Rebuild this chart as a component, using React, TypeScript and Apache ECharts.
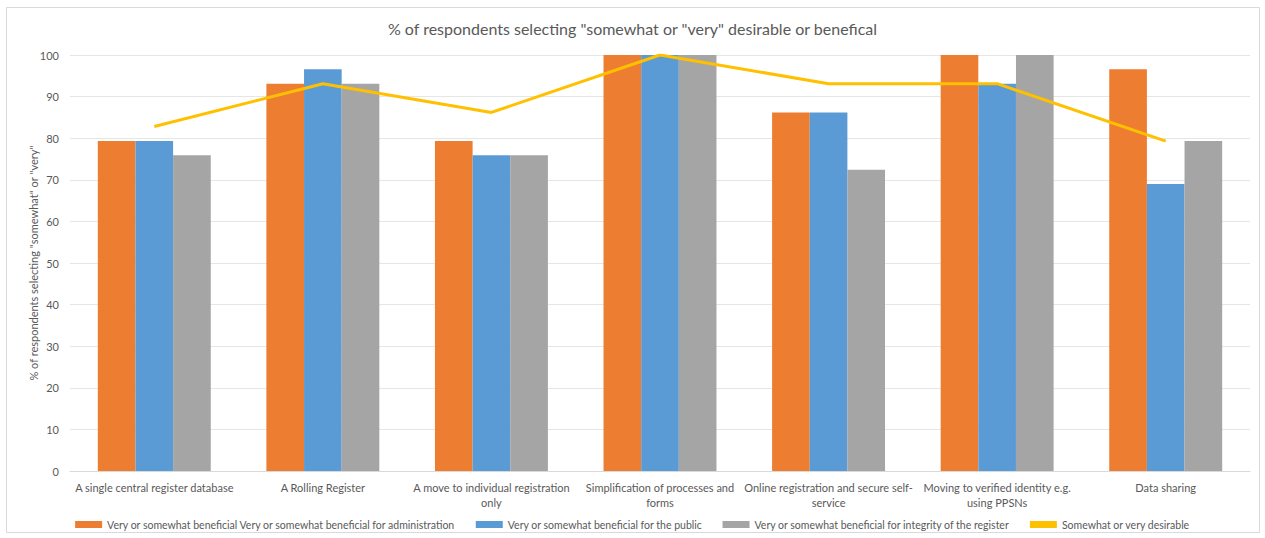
import React, { useEffect, useRef } from "react";
import * as echarts from "echarts";

const categories = [
  "A single central register database",
  "A Rolling Register",
  "A move to individual registration\nonly",
  "Simplification of processes and\nforms",
  "Online registration and secure self-\nservice",
  "Moving to verified identity e.g.\nusing PPSNs",
  "Data sharing",
];
const adminValues = [79.3, 93.1, 79.3, 100, 86.2, 100, 96.6];
const publicValues = [79.3, 96.6, 75.9, 100, 86.2, 93.1, 69.0];
const integrityValues = [75.9, 93.1, 75.9, 100, 72.4, 100, 79.3];
const desirableValues = [82.8, 93.1, 86.2, 100, 93.1, 93.1, 79.3];
const seriesNames = [
  "Very or somewhat beneficial Very or somewhat beneficial for administration",
  "Very or somewhat beneficial for the public",
  "Very or somewhat beneficial for integrity of the register",
  "Somewhat or very desirable",
];

const FONT = "Lato, 'Open Sans', sans-serif";
const TXT = "#595959";

export default function App() {
  const ref = useRef<HTMLDivElement>(null);
  useEffect(() => {
    if (!ref.current) return;
    const chart = echarts.init(ref.current, null, { renderer: "svg" });
    chart.setOption({
      animation: false,
      textStyle: { fontFamily: FONT },
      graphic: [
        {
          type: "rect",
          shape: { x: 6.5, y: 7.5, width: 1253, height: 525 },
          style: { fill: "none", stroke: "#d9d9d9", lineWidth: 1 },
          silent: true,
        },
      ],
      title: {
        text: '% of respondents selecting "somewhat or "very" desirable or benefical',
        left: "center",
        top: 15,
        textStyle: { fontFamily: FONT, fontSize: 16, fontWeight: "normal", color: TXT },
      },
      grid: { left: 70, right: 15, top: 55, bottom: 67, containLabel: false },
      legend: {
        bottom: 3,
        left: "center",
        itemWidth: 27,
        itemHeight: 7,
        itemGap: 20,
        textStyle: { fontFamily: FONT, fontSize: 10.5, color: TXT },
        data: seriesNames.map((n, i) =>
          i === 3 ? { name: n, icon: "rect", itemStyle: { color: "#FFC000" } } : { name: n, icon: "rect" }
        ),
      },
      xAxis: {
        type: "category",
        data: categories,
        axisLine: { lineStyle: { color: "#d9d9d9" } },
        axisTick: { show: false },
        axisLabel: { color: TXT, fontSize: 11, fontFamily: FONT, interval: 0, margin: 9, lineHeight: 15 },
      },
      yAxis: {
        type: "value",
        min: 0,
        max: 100,
        interval: 10,
        name: '% of respondents selecting "somewhat" or "very"',
        nameLocation: "middle",
        nameGap: 31,
        nameMoveOverlap: false,
        nameTextStyle: { color: TXT, fontSize: 11, fontFamily: FONT },
        axisLine: { show: false },
        axisTick: { show: false },
        axisLabel: { color: TXT, fontSize: 11, fontFamily: FONT, margin: 11 },
        splitLine: { lineStyle: { color: "#e6e6e6" } },
      },
      series: [
        {
          name: seriesNames[0],
          type: "bar",
          data: adminValues,
          itemStyle: { color: "#ED7D31" },
          barGap: "0%",
          barCategoryGap: "33%",
        },
        {
          name: seriesNames[1],
          type: "bar",
          data: publicValues,
          itemStyle: { color: "#5B9BD5" },
          barGap: "0%",
          barCategoryGap: "33%",
        },
        {
          name: seriesNames[2],
          type: "bar",
          data: integrityValues,
          itemStyle: { color: "#A5A5A5" },
          barGap: "0%",
          barCategoryGap: "33%",
        },
        {
          name: seriesNames[3],
          type: "line",
          data: desirableValues,
          symbol: "none",
          lineStyle: { color: "#FFC000", width: 3 },
          itemStyle: { color: "#FFC000" },
        },
      ],
    });
    return () => chart.dispose();
  }, []);
  return (
    <div
      ref={ref}
      style={{ position: "absolute", left: 0, top: 0, width: 1265, height: 538, background: "#fff" }}
    />
  );
}
